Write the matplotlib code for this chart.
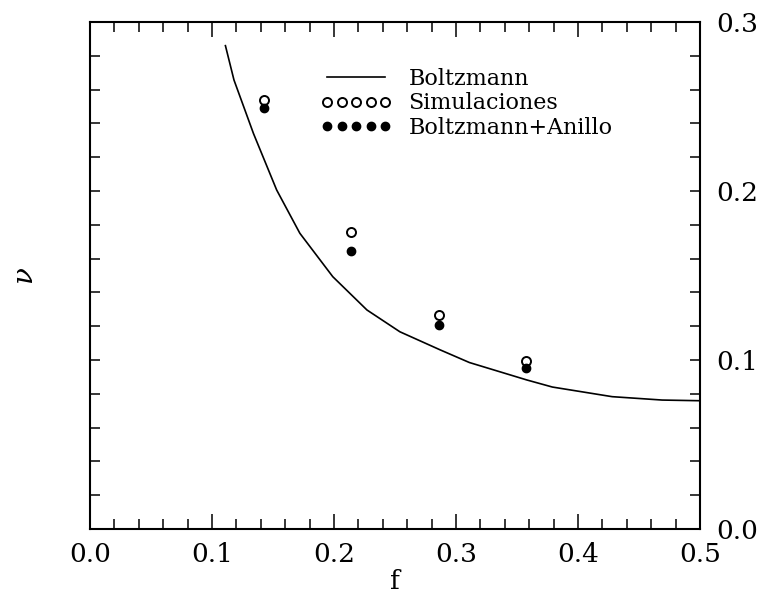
import matplotlib
matplotlib.use("Agg")
import matplotlib.pyplot as plt
from matplotlib.ticker import MultipleLocator

# Boltzmann prediction for the collision frequency
f_boltz = [0.111, 0.118, 0.134, 0.153, 0.172, 0.199, 0.227, 0.254, 0.287,
           0.311, 0.358, 0.379, 0.428, 0.469, 0.500]
nu_boltz = [0.286, 0.2657, 0.234, 0.2006, 0.175, 0.1493, 0.1296, 0.1167, 0.1060,
            0.0985, 0.0882, 0.0840, 0.0783, 0.0763, 0.0759]

# Simulation results and Boltzmann + ring corrections
f_points = [1/7, 3/14, 2/7, 5/14]
nu_sim = [0.2538, 0.1756, 0.1266, 0.0996]
nu_ring = [0.2491, 0.1645, 0.1207, 0.0951]

x_ticks = [0.0, 0.1, 0.2, 0.3, 0.4, 0.5]
y_ticks = [0.0, 0.1, 0.2, 0.3]

plt.rcParams['font.family'] = ['DejaVu Serif']
plt.rcParams['mathtext.fontset'] = 'dejavuserif'

fig = plt.figure(figsize=(7.69, 5.98), dpi=100)
ax = fig.add_axes([90/769, 1 - 529/598, 610/769, 507/598])

ax.plot(f_boltz, nu_boltz, color='black', lw=1.2, label='Boltzmann')
ax.plot(f_points, nu_sim, ls='none', marker='o', ms=6.5, mfc='white',
        mec='black', mew=1.4, label='Simulaciones')
ax.plot(f_points, nu_ring, ls='none', marker='o', ms=6.0, mfc='black',
        mec='black', mew=1.0, label='Boltzmann+Anillo')

ax.set_xlim(0, 0.5)
ax.set_ylim(0, 0.3)
ax.set_xticks(x_ticks)
ax.set_xticklabels([f"{v:.1f}" for v in x_ticks])
ax.set_yticks(y_ticks)
ax.set_yticklabels([f"{v:.1f}" for v in y_ticks])
ax.xaxis.set_minor_locator(MultipleLocator(0.02))
ax.yaxis.set_minor_locator(MultipleLocator(0.02))

ax.tick_params(axis='both', which='both', direction='in', top=True,
               right=True, left=True, bottom=True, width=1.1)
ax.tick_params(axis='x', which='major', length=11, labelsize=19, pad=9)
ax.tick_params(axis='x', which='minor', length=7)
ax.tick_params(axis='y', which='both', length=7)
ax.tick_params(axis='y', which='major', labelsize=19, labelleft=False,
               labelright=True, pad=12)
for s in ax.spines.values():
    s.set_linewidth(1.5)

ax.set_xlabel('f', fontsize=19, labelpad=2)
ax.set_ylabel(r'$\nu$', fontsize=20, labelpad=33)

ax.legend(loc='upper left', bbox_to_anchor=(0.378, 0.91), frameon=False,
          fontsize=16, numpoints=5, handlelength=3.2, handletextpad=0.75,
          labelspacing=0.12, borderpad=0, borderaxespad=0)

fig.savefig('out.png', dpi=100)
